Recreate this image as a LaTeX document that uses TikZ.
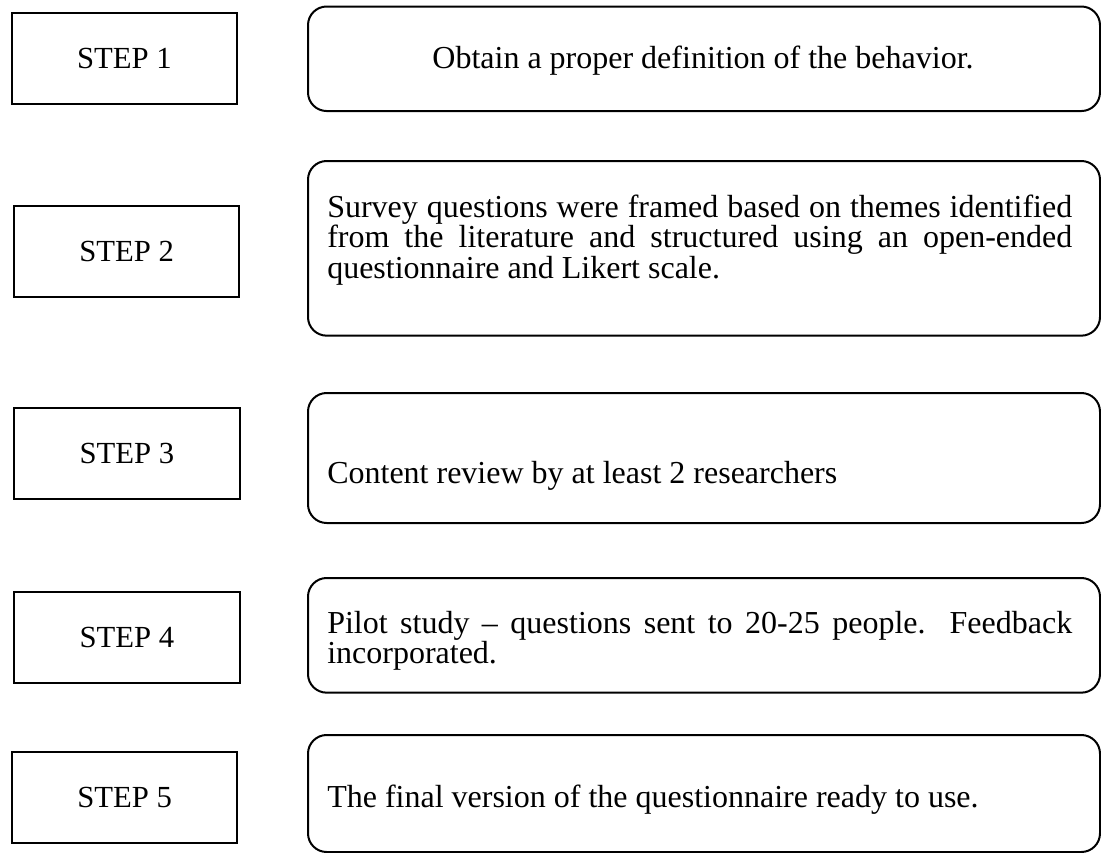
\documentclass[tikz,border=0pt]{standalone}
\usepackage{fontspec}
\setmainfont{Liberation Serif}
\begin{document}
\begin{tikzpicture}[x=0.75pt,y=-0.75pt,
  stepbox/.style={draw,line width=1.5pt,inner sep=0pt,anchor=north west,
    minimum width=169pt,minimum height=68.25pt,font=\fontsize{23}{27}\selectfont},
  panel/.style={draw,line width=1.5pt,rounded corners=14pt,inner sep=0pt,
    anchor=north west,minimum width=594pt},
  desc/.style={inner sep=0pt,font=\fontsize{24}{21.75}\selectfont},
  para/.style={desc,text width=558.75pt,align=justify},
]
\useasboundingbox (0,0) rectangle (1101,853);

% step labels on the left
\node[stepbox] (s1) at (10.7,11.7) {STEP 1};
\node[stepbox] (s2) at (13,205) {STEP 2};
\node[stepbox] (s3) at (13.3,407) {STEP 3};
\node[stepbox] (s4) at (13.3,591) {STEP 4};
\node[stepbox] (s5) at (11,751) {STEP 5};

% rounded panels on the right
\node[panel,minimum height=78.4pt] (r1) at (307,5.5) {};
\node[panel,minimum height=131pt] (r2) at (307,160) {};
\node[panel,minimum height=97.5pt] (r3) at (307,392) {};
\node[panel,minimum height=86pt] (r4) at (307,577) {};
\node[panel,minimum height=87.75pt] (r5) at (307,734) {};

% panel texts
\node[desc,anchor=base] (d1) at (703,68) {Obtain a proper definition of the behavior.};
\node[para,anchor=base west] (d2) at (327,217) {\hyphenpenalty=10000
  Survey questions were framed based on themes identified\linebreak
  from the literature and structured using an open-ended\linebreak
  questionnaire and Likert scale.};
\node[desc,anchor=base west] (d3) at (327,483) {Content review by at least 2 researchers};
\node[para,anchor=base west] (d4) at (327,633) {\hyphenpenalty=10000
  Pilot study – questions sent to 20-25 people. Feedback\linebreak
  incorporated.};
\node[desc,anchor=base west] (d5) at (327,807) {The final version of the questionnaire ready to use.};
\end{tikzpicture}
\end{document}
